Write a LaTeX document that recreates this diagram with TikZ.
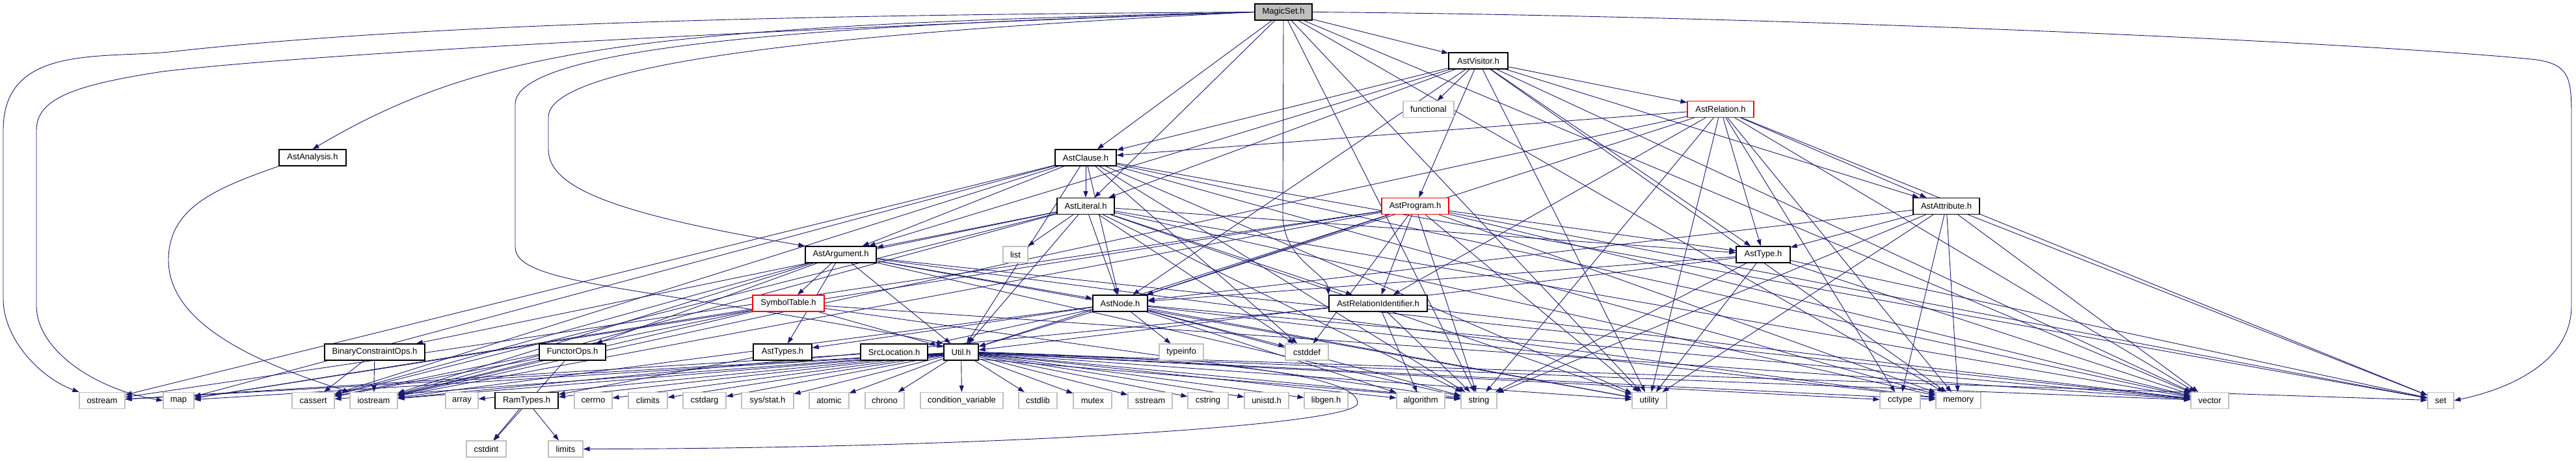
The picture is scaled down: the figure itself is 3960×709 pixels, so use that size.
\documentclass[tikz,border=0pt]{standalone}
\usepackage{fontspec}
\setmainfont{Liberation Sans}
\usetikzlibrary{arrows.meta,backgrounds}
\definecolor{edgec}{HTML}{191970}
\definecolor{sysgray}{HTML}{BFBFBF}
\newcommand\edgesfrom[2]{\foreach \t in {#2}{\draw[incl] (#1) -- (\t);}}
\begin{document}
\begin{tikzpicture}[x=1pt,y=-1pt,
  box/.style={rectangle, minimum height=25pt, inner sep=0pt, fill=white, font=\fontsize{13}{15}\selectfont, text=black},
  hdr/.style={box, draw=black, line width=1.3pt},
  sys/.style={box, draw=sysgray, line width=1.1pt},
  trunc/.style={box, draw=red, line width=1.3pt},
  root/.style={box, draw=black, fill=sysgray, line width=1.3pt},
  incl/.style={draw=edgec, line width=0.9pt, -{Triangle[length=10pt,width=7pt]}}
]
\useasboundingbox (0,0) rectangle (3960,709);
% row 0-4
\node[root, minimum width=88pt] (M) at (1973,18.5) {MagicSet.h};
\node[hdr, minimum width=91pt] (V) at (2272.5,93.5) {AstVisitor.h};
\node[sys, minimum width=78pt] (fun) at (2196,168) {functional};
\node[trunc, minimum width=102pt] (R) at (2645,168) {AstRelation.h};
\node[hdr, minimum width=103pt] (An) at (480.5,242.5) {AstAnalysis.h};
\node[hdr, minimum width=94pt] (C) at (1669,242.5) {AstClause.h};
\node[hdr, minimum width=88pt] (L) at (1669,317) {AstLiteral.h};
\node[trunc, minimum width=103pt] (P) at (2175.5,317) {AstProgram.h};
\node[hdr, minimum width=102pt] (A) at (2992,317) {AstAttribute.h};
% row 5
\node[hdr, minimum width=109pt] (G) at (1292.5,391.5) {AstArgument.h};
\node[sys, minimum width=38pt] (lst) at (1561,391.5) {list};
\node[hdr, minimum width=83pt] (T) at (2710.5,391.5) {AstType.h};
% row 6
\node[trunc, minimum width=110pt] (S) at (1212,466.5) {SymbolTable.h};
\node[hdr, minimum width=84pt] (N) at (1722,466.5) {AstNode.h};
\node[hdr, minimum width=151pt] (I) at (2118.5,466.5) {AstRelationIdentifier.h};
% row 7
\node[hdr, minimum width=154pt] (B) at (576,541.5) {BinaryConstraintOps.h};
\node[hdr, minimum width=102pt] (F) at (880,541.5) {FunctorOps.h};
\node[hdr, minimum width=90pt] (Y) at (1203,541.5) {AstTypes.h};
\node[hdr, minimum width=103pt] (Src) at (1374.5,541.5) {SrcLocation.h};
\node[hdr, minimum width=53pt] (U) at (1477.5,541.5) {Util.h};
\node[sys, minimum width=68pt] (tinfo) at (1816,541.5) {typeinfo};
\node[sys, minimum width=66pt] (cdef) at (2009,541.5) {cstddef};
% row 8
\node[sys, minimum width=70pt] (os) at (157,616) {ostream};
\node[sys, minimum width=47pt] (mp) at (274.5,616) {map};
\node[sys, minimum width=65pt] (cas) at (481.5,616) {cassert};
\node[sys, minimum width=73pt] (ios) at (574.5,616) {iostream};
\node[sys, minimum width=50pt] (arr) at (710,616) {array};
\node[hdr, minimum width=97pt] (Rt) at (809.5,616) {RamTypes.h};
\node[sys, minimum width=58pt] (cerr) at (912,616) {cerrno};
\node[sys, minimum width=60pt] (clim) at (996,616) {climits};
\node[sys, minimum width=66pt] (carg) at (1083,616) {cstdarg};
\node[sys, minimum width=80pt] (sst) at (1180,616) {sys/stat.h};
\node[sys, minimum width=61pt] (atom) at (1274.5,616) {atomic};
\node[sys, minimum width=60pt] (chr) at (1360,616) {chrono};
\node[sys, minimum width=127pt] (cv) at (1478.5,616) {condition\_variable};
\node[sys, minimum width=59pt] (clib) at (1595.5,616) {cstdlib};
\node[sys, minimum width=59pt] (mtx) at (1679.5,616) {mutex};
\node[sys, minimum width=68pt] (ss) at (1768,616) {sstream};
\node[sys, minimum width=62pt] (cstr) at (1857,616) {cstring};
\node[sys, minimum width=68pt] (uni) at (1947,616) {unistd.h};
\node[sys, minimum width=67pt] (lg) at (2038.5,616) {libgen.h};
\node[sys, minimum width=74pt] (alg) at (2184,616) {algorithm};
\node[sys, minimum width=55pt] (str) at (2273.5,616) {string};
\node[sys, minimum width=53pt] (util) at (2535.5,616) {utility};
\node[sys, minimum width=62pt] (cct) at (2921,616) {cctype};
\node[sys, minimum width=69pt] (mem) at (3010.5,616) {memory};
\node[sys, minimum width=58pt] (vec) at (3397,616) {vector};
\node[sys, minimum width=40pt] (st) at (3752,616) {set};
% row 9
\node[sys, minimum width=61pt] (cint) at (747.5,690.5) {cstdint};
\node[sys, minimum width=53pt] (lim) at (869.5,690.5) {limits};

\begin{scope}[on background layer]
\fill[white] (0,0) rectangle (3960,709);
% MagicSet.h
\draw[incl] (M.west) .. controls (1400,22) and (700,30) .. (260,80) .. controls (150,90) and (5,70) .. (5,200) -- (5,460) .. controls (5,520) and (60,580) .. (os.north west);
\draw[incl] (M.west) .. controls (1300,40) and (500,80) .. (250,110) .. controls (120,130) and (56,150) .. (56,200) -- (56,470) .. controls (56,540) and (150,600) .. (mp.west);
\draw[incl] (M.west) .. controls (1000,40) and (750,70) .. (An.north);
\draw[incl] (M.west) .. controls (1500,40) and (843,80) .. (843,180) -- (843,230) .. controls (843,290) and (950,330) .. (G.north west);
\draw[incl] (M.west) .. controls (1400,35) and (792,60) .. (792,160) -- (792,380) .. controls (792,440) and (1000,440) .. (U.north west);
\draw[incl] (M.south) -- (1972,330) .. controls (1972,400) and (2040,420) .. (I.north west);
\draw[incl] (M.east) .. controls (2800,25) and (3700,70) .. (3900,92) .. controls (3950,100) and (3953,120) .. (3953,180) -- (3953,470) .. controls (3953,560) and (3850,600) .. (st.east);
\edgesfrom{M}{V,C,L,util,str,vec,mem}
% AstAnalysis.h
\draw[incl] (An.south west) .. controls (330,290) and (259,320) .. (259,400) .. controls (259,500) and (400,560) .. (ios.north west);
% AstVisitor.h
\edgesfrom{V}{fun,R,P,C,L,G,N,T,A,mem,vec,util}
% AstRelation.h
\edgesfrom{R}{C,ios,N,I,str,T,A,mem,vec,st,cct,util}
% AstClause.h
\edgesfrom{C}{L,G,U,N,cdef,os,mp,cas,mem,vec,str,util,st}
% AstLiteral.h
\edgesfrom{L}{G,N,I,T,B,U,lst,cdef,ios,cas,mem,str,vec,util}
% AstProgram.h
\edgesfrom{P}{N,I,T,U,cdef,mp,os,ios,mem,str,vec,util,st}
% AstAttribute.h
\edgesfrom{A}{N,T,str,util,cct,vec,mem,st}
% AstArgument.h
\edgesfrom{G}{S,Y,U,N,F,cas,ios,mem,str,vec,util}
% AstType.h
\edgesfrom{T}{N,U,str,util,vec,st}
% AstRelationIdentifier.h
\edgesfrom{I}{alg,str,ios,vec}
% AstNode.h
\edgesfrom{N}{Src,U,tinfo,cdef,Y,ios,mem,str,vec,alg,util}
% SymbolTable.h
\edgesfrom{S}{U,cas,ios,mp,str,vec}
% small headers
\edgesfrom{Y}{Rt}
\edgesfrom{Src}{os,str}
\edgesfrom{B}{cas,ios}
\edgesfrom{F}{cint,cas,ios}
\edgesfrom{Rt}{cint,lim}
% Util.h
\edgesfrom{U}{os,mp,cas,ios,arr,Rt,cerr,clim,carg,sst,atom,chr,cv,clib,mtx,ss,cstr,uni,lg,alg,str,util,cct,mem,vec,st}
\draw[incl] (U.east) .. controls (1800,550) and (2087,570) .. (2087,620) .. controls (2087,655) and (1500,690) .. (lim.east);
\end{scope}
\end{tikzpicture}
\end{document}
